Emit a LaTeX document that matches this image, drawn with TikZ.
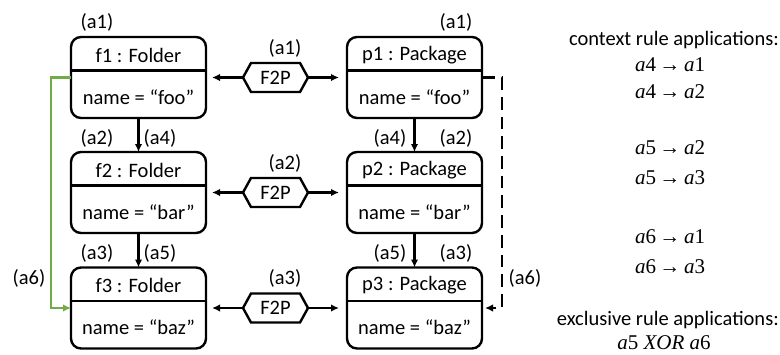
\documentclass[tikz,border=0pt]{standalone}
\usepackage{fontspec}
\setmainfont{Carlito}
\newfontfamily\rulefont{Liberation Serif}
\usetikzlibrary{arrows.meta,calc}

\definecolor{linkgreen}{RGB}{112,173,71}

\tikzset{
  txt/.style={font=\fontsize{20.5}{24}\selectfont, inner sep=0pt},
  objbox/.style={draw, line width=2.4pt, rounded corners=10pt,
    minimum width=135pt, minimum height=81pt, inner sep=0pt, outer sep=0pt},
  hexbox/.style={minimum width=65pt, minimum height=29pt, inner sep=0pt, outer sep=0pt},
  hexline/.style={line width=2.4pt, line join=miter},
  conn/.style={line width=2.2pt, -{Latex[length=8pt,width=7.5pt]}},
  sizzle/.style={conn, dash pattern=on 12.7pt off 7pt, shorten >=3pt},
  greenconn/.style={conn, draw=linkgreen, -{Latex[length=8pt,width=7.5pt,fill=linkgreen]}},
  rule/.style={font=\rulefont\fontsize{21}{24}\selectfont, inner sep=0pt},
}

% object box with a title compartment and an attribute compartment
\newcommand{\umlobj}[5]{%
  \node[objbox] (#1) at (#2,#3) {};
  \draw[line width=2.4pt] ($(#1.west)+(0,-7)$) -- ($(#1.east)+(0,-7)$);
  \node[txt] (#1-title) at ($(#1.center)+(0,-22.5)$) {#4};
  \node[txt] (#1-attr) at ($(#1.center)+(0,19.5)$) {#5};
}

% correspondence node drawn as a hexagon
\newcommand{\corrnode}[3]{%
  \node[hexbox] (#1) at (#2,#3) {};
  \draw[hexline] (#1.west) -- ($(#1.north west)+(8,0)$) -- ($(#1.north east)+(-8,0)$)
    -- (#1.east) -- ($(#1.south east)+(-8,0)$) -- ($(#1.south west)+(8,0)$) -- cycle;
  \node[txt] (#1-label) at (#1.center) {F2P};
}

% rule dependency: italic rule name, upright number
\newcommand{\rn}[1]{\textit{a}#1}
\newcommand{\dep}[2]{\rn{#1}\,→\,\rn{#2}}

\begin{document}
\begin{tikzpicture}[x=1pt, y=-1pt]
  \useasboundingbox (0,0) rectangle (780,354);

  % folders
  \umlobj{f1}{138.5}{77.5}{f1 : Folder}{name = “foo”}
  \umlobj{f2}{138.5}{192.5}{f2 : Folder}{name = “bar”}
  \umlobj{f3}{138.5}{308}{f3 : Folder}{name = “baz”}

  % packages
  \umlobj{p1}{414.5}{77.5}{p1 : Package}{name = “foo”}
  \umlobj{p2}{414.5}{192.5}{p2 : Package}{name = “bar”}
  \umlobj{p3}{414.5}{308}{p3 : Package}{name = “baz”}

  % correspondences
  \corrnode{c1}{275.5}{77.5}
  \corrnode{c2}{275.5}{192.5}
  \corrnode{c3}{275.5}{308}

  \foreach \i in {1,2,3} {
    \draw[conn, shorten >=6pt] (c\i.west) -- (f\i.east);
    \draw[conn, shorten >=8pt] (c\i.east) -- (p\i.west);
  }

  % containment edges
  \draw[conn] (f1.south) -- (f2.north);
  \draw[conn] (f2.south) -- (f3.north);
  \draw[conn] (p1.south) -- (p2.north);
  \draw[conn] (p2.south) -- (p3.north);

  % a6 edges
  \draw[greenconn] (f1.west) -- ++(-20,0) |- (f3.west);
  \draw[sizzle] (p1.east) -- ++(20,0) |- (p3.east);

  % rule application labels
  \node[txt] (lf1) at (97,22) {(a1)};
  \node[txt] (lp1) at (456,22) {(a1)};
  \node[txt] (lc1) at (285,48) {(a1)};
  \node[txt] (lf2) at (97,138) {(a2)};
  \node[txt] (lf4) at (160,138) {(a4)};
  \node[txt] (lp4) at (390,138) {(a4)};
  \node[txt] (lp2) at (456,138) {(a2)};
  \node[txt] (lc2) at (285,163) {(a2)};
  \node[txt] (lf3) at (97,253) {(a3)};
  \node[txt] (lf5) at (160,253) {(a5)};
  \node[txt] (lp5) at (390,253) {(a5)};
  \node[txt] (lp3) at (456,253) {(a3)};
  \node[txt] (lc3) at (285,278) {(a3)};
  \node[txt] (lg6) at (29,278) {(a6)};
  \node[txt] (ld6) at (525,278) {(a6)};

  % dependency summary
  \node[txt, anchor=east] (ctx) at (779,40) {context rule applications:};
  \node[rule] (r1) at (670,65) {\dep{4}{1}};
  \node[rule] (r2) at (670,92) {\dep{4}{2}};
  \node[rule] (r3) at (670,148) {\dep{5}{2}};
  \node[rule] (r4) at (670,178) {\dep{5}{3}};
  \node[rule] (r5) at (670,237) {\dep{6}{1}};
  \node[rule] (r6) at (670,267) {\dep{6}{3}};
  \node[txt, anchor=east] (exc) at (779,320) {exclusive rule applications:};
  \node[rule] (x1) at (664,343) {\rn{5} \textit{XOR} \rn{6}};
\end{tikzpicture}
\end{document}
